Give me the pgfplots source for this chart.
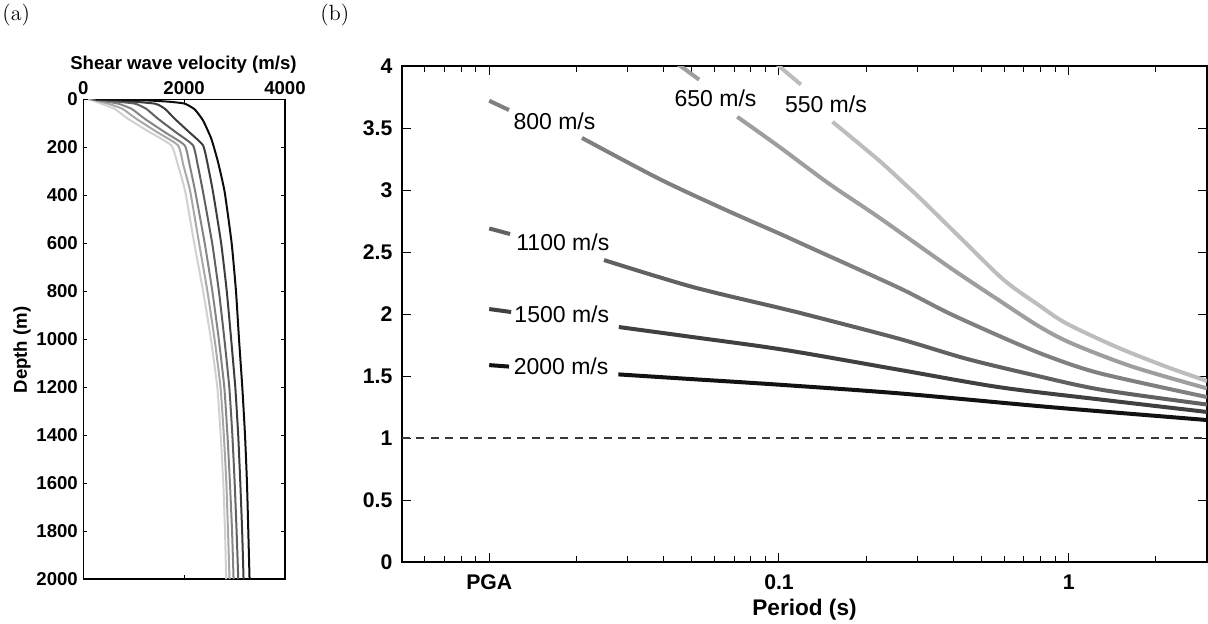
\documentclass[border=0pt]{standalone}
\usepackage{fontspec}
\usepackage{pgfplots}
\pgfplotsset{compat=1.18}
\newfontfamily\arial{Liberation Sans}
\definecolor{c550}{gray}{0.74}
\definecolor{c650}{gray}{0.62}
\definecolor{c800}{gray}{0.50}
\definecolor{c1100}{gray}{0.38}
\definecolor{c1500}{gray}{0.25}
\definecolor{c2000}{gray}{0.07}
\definecolor{l1}{gray}{0.82}
\definecolor{l2}{gray}{0.66}
\definecolor{l3}{gray}{0.52}
\definecolor{l4}{gray}{0.38}
\definecolor{l5}{gray}{0.24}
\definecolor{l6}{gray}{0.05}
\begin{document}
\begin{tikzpicture}
\path[use as bounding box] (0,0) rectangle (604pt,311.5pt);
\node[anchor=west, inner sep=0pt, font=\fontsize{11}{13}\selectfont] at (1pt,304pt) {(a)};
\node[anchor=west, inner sep=0pt, font=\fontsize{11}{13}\selectfont] at (160pt,304pt) {(b)};
\node[rotate=90, font=\arial\bfseries\fontsize{9.3}{11}\selectfont] at (11pt,136.5pt) {Depth (m)};
\node[font=\arial\bfseries\fontsize{9.3}{11}\selectfont] at (91.75pt,279pt) {Shear wave velocity (m/s)};
\node[anchor=base, inner sep=0pt, font=\arial\bfseries\fontsize{11.3}{13}\selectfont] at (402.25pt,3.6pt) {Period (s)};

% ---------------- (a) ----------------
\begin{axis}[
  at={(41.65pt,22pt)}, anchor=south west,
  scale only axis, width=100.85pt, height=239.85pt,
  xmin=0, xmax=4000, ymin=0, ymax=2000, y dir=reverse,
  xtick={0,2000,4000}, ytick={0,200,400,600,800,1000,1200,1400,1600,1800,2000},
  xticklabel pos=upper,
  tick pos=both,
  scaled ticks=false,
  /pgf/number format/1000 sep={},
  /pgf/number format/assume math mode=true,
  tick label style={font=\arial\bfseries\fontsize{9.3}{11}\selectfont},
  yticklabel style={xshift=0.8pt},
  xticklabel style={yshift=-1pt},
  tick align=inside, major tick length=2pt,
  axis line style={line width=0.7pt},
  tick style={line width=0.5pt, black},
  every axis plot/.append style={line width=1pt, smooth, tension=0.3},
]
\addplot[l1] coordinates {(100,0) (200,5) (350,18) (620,40) (886,81) (1300,135) (1745,192) (1878,275) (2023,386) (2200,600) (2376,800) (2531,1000) (2657,1200) (2724,1400) (2776,1600) (2810,1800) (2834,2000)};
\addplot[l2] coordinates {(120,0) (250,5) (490,18) (780,40) (1050,81) (1450,135) (1878,192) (1985,275) (2122,386) (2296,600) (2461,800) (2603,1000) (2721,1200) (2787,1400) (2837,1600) (2870,1800) (2900,2000)};
\addplot[l3] coordinates {(150,0) (330,5) (688,18) (960,40) (1217,81) (1600,135) (2010,192) (2110,275) (2221,386) (2408,600) (2559,800) (2687,1000) (2796,1200) (2859,1400) (2908,1600) (2950,1800) (2980,2000)};
\addplot[l4] coordinates {(180,0) (450,5) (1019,18) (1250,40) (1481,81) (1820,135) (2175,192) (2270,275) (2374,386) (2556,600) (2689,800) (2798,1000) (2895,1200) (2956,1400) (3002,1600) (3040,1800) (3073,2000)};
\addplot[l5] coordinates {(220,0) (700,5) (1415,18) (1620,40) (1812,81) (2090,135) (2374,192) (2470,275) (2572,386) (2734,600) (2845,800) (2932,1000) (3014,1200) (3072,1400) (3114,1600) (3150,1800) (3178,2000)};
\addplot[l6] coordinates {(250,0) (800,2) (1300,5) (1700,10) (2010,18) (2209,42) (2374,88) (2538,164) (2671,261) (2803,386) (2942,600) (3028,800) (3088,1000) (3153,1200) (3207,1400) (3246,1600) (3272,1800) (3297,2000)};
\end{axis}

% ---------------- (b) ----------------
\begin{axis}[
  at={(201pt,30.5pt)}, anchor=south west,
  scale only axis, width=402.5pt, height=248pt,
  xmode=log, xmin=0.005, xmax=3, ymin=0, ymax=4,
  xtick={0.01,0.1,1}, xticklabels={PGA,0.1,1},
  minor xtick={0.005,0.006,0.007,0.008,0.009,0.02,0.03,0.04,0.05,0.06,0.07,0.08,0.09,0.2,0.3,0.4,0.5,0.6,0.7,0.8,0.9,2,3},
  ytick={0,0.5,1,1.5,2,2.5,3,3.5,4},
  yticklabels={0,0.5,1,1.5,2,2.5,3,3.5,4},
  tick pos=both,
  /pgf/number format/assume math mode=true,
  tick label style={font=\arial\bfseries\fontsize{10.6}{12}\selectfont},
  xticklabel style={yshift=-3pt},
  yticklabel style={xshift=-1.25pt},
  tick align=inside, major tick length=4.5pt, minor tick length=2.8pt,
  axis line style={line width=0.7pt},
  tick style={line width=0.5pt, black},
  every axis plot/.append style={line width=2pt, smooth, tension=0.5},
]
\addplot[gray!45!black, line width=0.6pt, sharp plot, dash pattern=on 4pt off 3.2pt] coordinates {(0.005,1) (3,1)};
% 550 m/s
\addplot[c550] coordinates {(0.095,4.05) (0.1,4.0) (0.119,3.85)};
\addplot[c550] coordinates {(0.153,3.55) (0.221,3.24) (0.274,3.04) (0.308,2.93) (0.442,2.57) (0.6,2.27) (0.79,2.07) (0.98,1.925) (1.456,1.736) (2.17,1.575) (3,1.46)};
% 650 m/s
\addplot[c650] coordinates {(0.043,4.04) (0.0457,4.0) (0.053,3.89)};
\addplot[c650] coordinates {(0.0718,3.59) (0.1,3.35) (0.149,3.05) (0.221,2.78) (0.386,2.38) (0.575,2.11) (0.79,1.90) (1.03,1.76) (1.66,1.575) (3,1.40)};
% 800 m/s
\addplot[c800] coordinates {(0.01,3.72) (0.0117,3.645)};
\addplot[c800] coordinates {(0.0209,3.42) (0.0386,3.09) (0.0654,2.84) (0.1,2.65) (0.127,2.54) (0.26,2.21) (0.386,2.006) (0.62,1.79) (0.855,1.656) (1.29,1.52) (3,1.33)};
% 1100 m/s
\addplot[c1100] coordinates {(0.01,2.69) (0.0118,2.645)};
\addplot[c1100] coordinates {(0.0249,2.435) (0.05,2.22) (0.1,2.05) (0.127,1.99) (0.26,1.80) (0.442,1.64) (0.75,1.51) (1.29,1.39) (3,1.27)};
% 1500 m/s
\addplot[c1500] coordinates {(0.01,2.04) (0.0119,2.016)};
\addplot[c1500] coordinates {(0.028,1.895) (0.05,1.815) (0.105,1.71) (0.26,1.55) (0.575,1.41) (1.29,1.31) (3,1.21)};
% 2000 m/s
\addplot[c2000] coordinates {(0.01,1.588) (0.0117,1.576)};
\addplot[c2000] coordinates {(0.0279,1.513) (0.05,1.475) (0.1,1.43) (0.26,1.36) (0.855,1.25) (3,1.145)};

\node[font=\arial\fontsize{11.5}{13}\selectfont] at (axis cs:0.1452,3.69) {550 m/s};
\node[font=\arial\fontsize{11.5}{13}\selectfont] at (axis cs:0.0604,3.74) {650 m/s};
\node[font=\arial\fontsize{11.5}{13}\selectfont] at (axis cs:0.0168,3.556) {800 m/s};
\node[font=\arial\fontsize{11.5}{13}\selectfont] at (axis cs:0.01795,2.577) {1100 m/s};
\node[font=\arial\fontsize{11.5}{13}\selectfont] at (axis cs:0.0178,2.0) {1500 m/s};
\node[font=\arial\fontsize{11.5}{13}\selectfont] at (axis cs:0.0177,1.58) {2000 m/s};
\end{axis}
\end{tikzpicture}
\end{document}
